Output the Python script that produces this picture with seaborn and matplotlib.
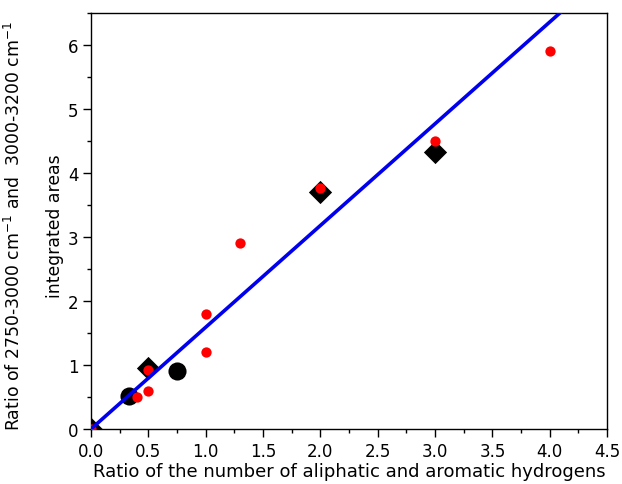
import matplotlib
matplotlib.use("Agg")
import matplotlib.pyplot as plt
import seaborn as sns
import numpy as np
import pandas as pd
from matplotlib.ticker import MultipleLocator, FormatStrFormatter

# data
red_x = [0.0, 0.4, 0.5, 0.5, 1.0, 1.0, 1.3, 2.0, 3.0, 4.0]
red_y = [0.0, 0.5, 0.6, 0.92, 1.2, 1.8, 2.9, 3.77, 4.5, 5.9]
circ_x = [0.33, 0.75]
circ_y = [0.52, 0.91]
diam_x = [0.0, 0.5, 2.0, 3.0]
diam_y = [0.0, 0.95, 3.7, 4.33]
fit_x = [0.0, 4.5]
fit_slope = 1.59
fit_y = [fit_slope * v for v in fit_x]

sns.set_theme(style="white")
plt.rcParams['font.family'] = ['DejaVu Sans']
plt.rcParams['text.color'] = 'black'
plt.rcParams['axes.labelcolor'] = 'black'
plt.rcParams['xtick.color'] = 'black'
plt.rcParams['ytick.color'] = 'black'

fig = plt.figure(figsize=(6.22, 4.85), dpi=100)
ax = fig.add_axes([0.1463, 0.1134, 0.976 - 0.1463, 0.971 - 0.1134])

sns.scatterplot(x=diam_x, y=diam_y, marker='D', s=140, color='black',
                edgecolor='black', linewidth=0, ax=ax, zorder=2)
sns.scatterplot(x=circ_x, y=circ_y, marker='o', s=170, color='black',
                edgecolor='black', linewidth=0, ax=ax, zorder=2)
sns.scatterplot(x=red_x, y=red_y, marker='o', s=55, color='red',
                edgecolor='red', linewidth=0, ax=ax, zorder=3)
sns.lineplot(x=fit_x, y=fit_y, color='#0000ee', linewidth=2.6, ax=ax, zorder=4)

ax.set_xlim(0, 4.5)
ax.set_ylim(0, 6.5)
ax.xaxis.set_major_locator(MultipleLocator(0.5))
ax.xaxis.set_minor_locator(MultipleLocator(0.25))
ax.yaxis.set_major_locator(MultipleLocator(1))
ax.yaxis.set_minor_locator(MultipleLocator(0.5))
ax.xaxis.set_major_formatter(FormatStrFormatter('%.1f'))
ax.yaxis.set_major_formatter(FormatStrFormatter('%d'))
ax.tick_params(which='major', direction='out', length=6, width=1, color='black',
               labelcolor='black', labelsize=12, bottom=True, left=True,
               top=False, right=False, pad=3)
ax.tick_params(which='minor', direction='out', length=3, width=1, color='black',
               bottom=True, left=True, top=False, right=False)
for s in ax.spines.values():
    s.set_color('black')
    s.set_linewidth(1)

ax.set_xlabel("Ratio of the number of aliphatic and aromatic hydrogens",
              fontsize=13, labelpad=2, color='black')
ax.set_ylabel("Ratio of 2750-3000 cm$^{-1}$ and  3000-3200 cm$^{-1}$\nintegrated areas",
              fontsize=12.4, linespacing=2.6, color='black')
ax.yaxis.set_label_coords(-0.052, 0.49)

fig.savefig("out.png", dpi=100)
